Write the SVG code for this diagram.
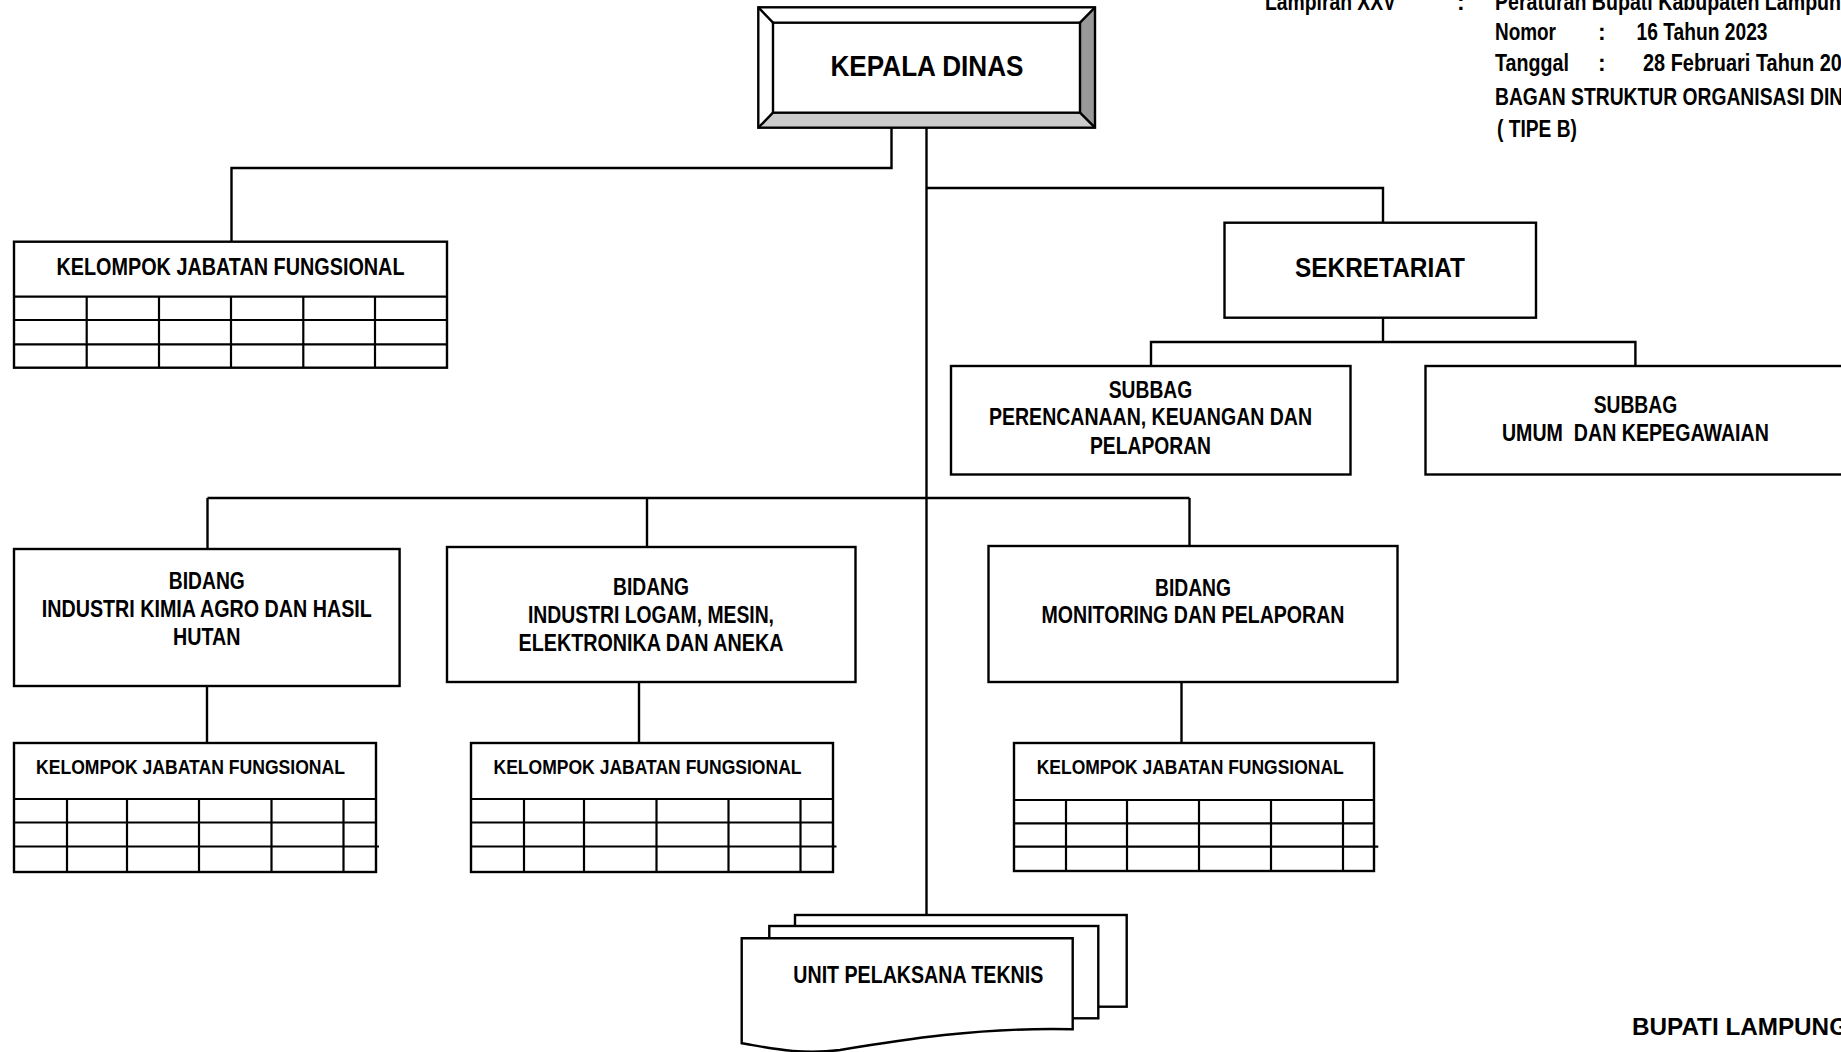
<svg xmlns="http://www.w3.org/2000/svg" width="1841" height="1052" viewBox="0 0 1841 1052">
<style>
.ln{stroke:#000;stroke-width:2.4;fill:none}
.bx{fill:#fff;stroke:#000;stroke-width:2.4}
.tl{stroke:#000;stroke-width:2.2;fill:none}
.t{font-family:"Liberation Sans Narrow","Liberation Sans",Arial,sans-serif;font-weight:bold;fill:#000}
.c{text-anchor:middle}
.h{font-size:23px}
.b{font-size:23px}
.k{font-size:20.5px}
</style>
<rect width="1841" height="1052" fill="#fff"/>

<g id="connectors">
  <polyline class="ln" points="891.5,127.7 891.5,168 231.5,168 231.5,241.7"/>
  <line class="ln" x1="926.5" y1="127.7" x2="926.5" y2="915"/>
  <polyline class="ln" points="926.5,188 1383,188 1383,222.7"/>
  <line class="ln" x1="1383" y1="317.7" x2="1383" y2="342"/>
  <polyline class="ln" points="1151,366 1151,342 1635.4,342 1635.4,366"/>
  <line class="ln" x1="207.5" y1="498" x2="1189.5" y2="498"/>
  <line class="ln" x1="207.5" y1="498" x2="207.5" y2="549"/>
  <line class="ln" x1="647" y1="498" x2="647" y2="547"/>
  <line class="ln" x1="1189.5" y1="498" x2="1189.5" y2="546"/>
  <line class="ln" x1="207" y1="686" x2="207" y2="743"/>
  <line class="ln" x1="639" y1="682" x2="639" y2="743"/>
  <line class="ln" x1="1181.5" y1="682" x2="1181.5" y2="743"/>
</g>

<g id="header" xml:space="preserve">
  <text class="t h" x="1265" y="10" textLength="131" lengthAdjust="spacingAndGlyphs">Lampiran XXV</text>
  <text class="t h" x="1457" y="10">:</text>
  <text class="t h" x="1495" y="10" textLength="358" lengthAdjust="spacingAndGlyphs">Peraturan Bupati  Kabupaten Lampung</text>
  <text class="t h" x="1495" y="40" textLength="61" lengthAdjust="spacingAndGlyphs">Nomor</text>
  <text class="t h" x="1598" y="40">:</text>
  <text class="t h" x="1636.5" y="40" textLength="131" lengthAdjust="spacingAndGlyphs">16 Tahun 2023</text>
  <text class="t h" x="1495" y="71" textLength="74" lengthAdjust="spacingAndGlyphs">Tanggal</text>
  <text class="t h" x="1598" y="71">:</text>
  <text class="t h" x="1643" y="71" textLength="221" lengthAdjust="spacingAndGlyphs">28 Februari  Tahun 2023</text>
  <text class="t h" x="1495" y="104.5" textLength="375" lengthAdjust="spacingAndGlyphs">BAGAN STRUKTUR ORGANISASI DINAS</text>
  <text class="t h" x="1497" y="137.3" textLength="80" lengthAdjust="spacingAndGlyphs">( TIPE B)</text>
</g>

<g id="kepala-dinas">
  <rect x="758.3" y="7.3" width="336.7" height="120.4" fill="#fff"/>
  <polygon points="758.3,7.3 1095,7.3 1080,22.7 773,22.7" fill="#fff"/>
  <polygon points="1095,7.3 1095,127.7 1080,112.7 1080,22.7" fill="#999"/>
  <polygon points="758.3,127.7 1095,127.7 1080,112.7 773,112.7" fill="#ccc"/>
  <rect x="758.3" y="7.3" width="336.7" height="120.4" class="ln"/>
  <rect x="773" y="22.7" width="307" height="90" class="ln"/>
  <line class="ln" x1="758.3" y1="7.3" x2="773" y2="22.7"/>
  <line class="ln" x1="1095" y1="7.3" x2="1080" y2="22.7"/>
  <line class="ln" x1="758.3" y1="127.7" x2="773" y2="112.7"/>
  <line class="ln" x1="1095" y1="127.7" x2="1080" y2="112.7"/>
  <text class="t c" x="927" y="75.5" font-size="29" textLength="193" lengthAdjust="spacingAndGlyphs">KEPALA DINAS</text>
</g>

<g id="kjf-top">
  <rect class="bx" x="14" y="241.7" width="433" height="126"/>
  <line class="tl" x1="14" y1="296.7" x2="447" y2="296.7"/>
  <line class="tl" x1="14" y1="320" x2="447" y2="320"/>
  <line class="tl" x1="13" y1="344.3" x2="447" y2="344.3"/>
  <line class="tl" x1="86.7" y1="296.7" x2="86.7" y2="367.7"/>
  <line class="tl" x1="159" y1="296.7" x2="159" y2="367.7"/>
  <line class="tl" x1="231" y1="296.7" x2="231" y2="367.7"/>
  <line class="tl" x1="303.3" y1="296.7" x2="303.3" y2="367.7"/>
  <line class="tl" x1="375" y1="296.7" x2="375" y2="367.7"/>
  <text class="t c" x="230.5" y="275" font-size="23.5" textLength="348" lengthAdjust="spacingAndGlyphs">KELOMPOK JABATAN FUNGSIONAL</text>
</g>

<g id="sekretariat">
  <rect class="bx" x="1224.5" y="222.7" width="311.5" height="95"/>
  <text class="t c" x="1380" y="277" font-size="27" textLength="170" lengthAdjust="spacingAndGlyphs">SEKRETARIAT</text>
</g>

<g id="subbag-perencanaan">
  <rect class="bx" x="951" y="366" width="399.5" height="108.5"/>
  <text class="t c b" x="1150.5" y="398" textLength="83.5" lengthAdjust="spacingAndGlyphs">SUBBAG</text>
  <text class="t c b" x="1150.5" y="425" textLength="323" lengthAdjust="spacingAndGlyphs">PERENCANAAN, KEUANGAN DAN</text>
  <text class="t c b" x="1150.5" y="453.5" textLength="121" lengthAdjust="spacingAndGlyphs">PELAPORAN</text>
</g>

<g id="subbag-umum">
  <rect class="bx" x="1425.5" y="366" width="430" height="108.5"/>
  <text class="t c b" x="1635.4" y="413" textLength="83.5" lengthAdjust="spacingAndGlyphs">SUBBAG</text>
  <text class="t c b" x="1635.4" y="440.5" xml:space="preserve" textLength="267" lengthAdjust="spacingAndGlyphs">UMUM  DAN KEPEGAWAIAN</text>
</g>

<g id="bidang-kimia">
  <rect class="bx" x="14" y="549" width="385.6" height="137"/>
  <text class="t c b" x="206.8" y="589" textLength="76" lengthAdjust="spacingAndGlyphs">BIDANG</text>
  <text class="t c b" x="206.8" y="617" textLength="330" lengthAdjust="spacingAndGlyphs">INDUSTRI KIMIA AGRO DAN HASIL</text>
  <text class="t c b" x="206.8" y="645" textLength="67.5" lengthAdjust="spacingAndGlyphs">HUTAN</text>
</g>

<g id="bidang-logam">
  <rect class="bx" x="447" y="547" width="408.5" height="135"/>
  <text class="t c b" x="651" y="595" textLength="76" lengthAdjust="spacingAndGlyphs">BIDANG</text>
  <text class="t c b" x="651" y="622.5" textLength="246" lengthAdjust="spacingAndGlyphs">INDUSTRI LOGAM, MESIN,</text>
  <text class="t c b" x="651" y="651" textLength="265" lengthAdjust="spacingAndGlyphs">ELEKTRONIKA DAN ANEKA</text>
</g>

<g id="bidang-monitoring">
  <rect class="bx" x="988.5" y="546" width="409" height="136"/>
  <text class="t c b" x="1193" y="596" textLength="76" lengthAdjust="spacingAndGlyphs">BIDANG</text>
  <text class="t c b" x="1193" y="622.7" textLength="303" lengthAdjust="spacingAndGlyphs">MONITORING DAN PELAPORAN</text>
</g>

<g id="kjf-1">
  <rect class="bx" x="14" y="743" width="362" height="129"/>
  <line class="tl" x1="14" y1="799" x2="376" y2="799"/>
  <line class="tl" x1="14" y1="822.5" x2="376" y2="822.5"/>
  <line class="tl" x1="14" y1="846.5" x2="379" y2="846.5"/>
  <line class="tl" x1="67" y1="799" x2="67" y2="872"/>
  <line class="tl" x1="127" y1="799" x2="127" y2="872"/>
  <line class="tl" x1="199" y1="799" x2="199" y2="872"/>
  <line class="tl" x1="271.5" y1="799" x2="271.5" y2="872"/>
  <line class="tl" x1="343.5" y1="799" x2="343.5" y2="872"/>
  <text class="t k" x="36" y="773.5" textLength="309" lengthAdjust="spacingAndGlyphs">KELOMPOK JABATAN FUNGSIONAL</text>
</g>

<g id="kjf-2">
  <rect class="bx" x="471" y="743" width="362" height="129"/>
  <line class="tl" x1="471" y1="799" x2="833" y2="799"/>
  <line class="tl" x1="471" y1="822.5" x2="833" y2="822.5"/>
  <line class="tl" x1="471" y1="846.5" x2="836.5" y2="846.5"/>
  <line class="tl" x1="524" y1="799" x2="524" y2="872"/>
  <line class="tl" x1="584" y1="799" x2="584" y2="872"/>
  <line class="tl" x1="656.5" y1="799" x2="656.5" y2="872"/>
  <line class="tl" x1="728.5" y1="799" x2="728.5" y2="872"/>
  <line class="tl" x1="800.5" y1="799" x2="800.5" y2="872"/>
  <text class="t k" x="493.5" y="773.5" textLength="308" lengthAdjust="spacingAndGlyphs">KELOMPOK JABATAN FUNGSIONAL</text>
</g>

<g id="kjf-3">
  <rect class="bx" x="1014" y="743" width="360" height="128"/>
  <line class="tl" x1="1014" y1="800" x2="1374" y2="800"/>
  <line class="tl" x1="1014" y1="823.3" x2="1374" y2="823.3"/>
  <line class="tl" x1="1014" y1="846.7" x2="1378.3" y2="846.7"/>
  <line class="tl" x1="1066" y1="800" x2="1066" y2="871"/>
  <line class="tl" x1="1127" y1="800" x2="1127" y2="871"/>
  <line class="tl" x1="1199" y1="800" x2="1199" y2="871"/>
  <line class="tl" x1="1271" y1="800" x2="1271" y2="871"/>
  <line class="tl" x1="1343" y1="800" x2="1343" y2="871"/>
  <text class="t k" x="1036.7" y="773.5" textLength="307" lengthAdjust="spacingAndGlyphs">KELOMPOK JABATAN FUNGSIONAL</text>
</g>

<g id="upt">
  <rect class="bx" x="795" y="915" width="331.7" height="91.7"/>
  <rect class="bx" x="769.3" y="926" width="329" height="92.3"/>
  <path class="bx" d="M741.7,938.3 H1072.7 V1029.3 C980,1027 900,1040 840,1050 C800,1055 770,1048 741.7,1043.3 Z"/>
  <text class="t c" x="918.3" y="983" font-size="23" textLength="250" lengthAdjust="spacingAndGlyphs">UNIT PELAKSANA TEKNIS</text>
</g>

<g id="bupati">
  <text class="t" x="1632" y="1034.5" font-size="24" textLength="216" lengthAdjust="spacingAndGlyphs">BUPATI LAMPUNG</text>
</g>
</svg>
